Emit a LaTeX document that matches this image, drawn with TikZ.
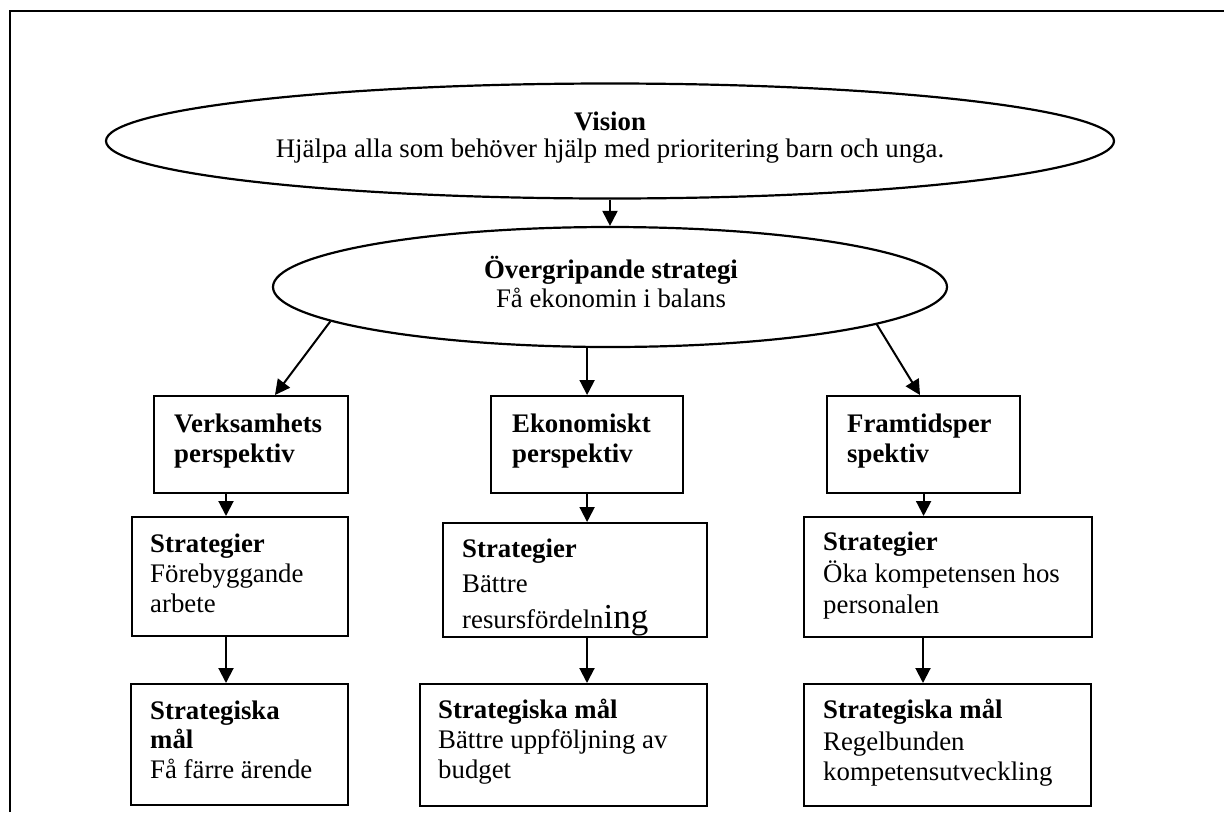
\documentclass[tikz,border=0pt]{standalone}
\usepackage{fontspec}
\setmainfont{Liberation Serif}
\usetikzlibrary{shapes.geometric,arrows.meta,calc}
\begin{document}
\begin{tikzpicture}[x=1pt,y=-1pt,
  shp/.style={draw, line width=2.2pt, inner sep=0pt},
  ell/.style={shp, ellipse},
  bx/.style={shp, rectangle, anchor=north west},
  arr/.style={line width=2pt, -{Triangle[length=15pt,width=15pt]}},
  txt/.style={inner sep=0pt, anchor=base west, font=\fontsize{26.8}{30}\selectfont},
  btxt/.style={txt, font=\fontsize{26.8}{30}\selectfont\bfseries},
  ctxt/.style={txt, anchor=base},
  cbtxt/.style={btxt, anchor=base}]
\useasboundingbox (0,0) rectangle (1224,812);
\draw[line width=2.4pt] (10,812) -- (10,11) -- (1224,11);

% ellipses
\node[ell, minimum width=1008pt, minimum height=115pt] (vision) at (610,141) {};
\node[ell, minimum width=674pt, minimum height=120pt] (over) at (610,287) {};
\node[cbtxt] (visT1) at (610,130) {Vision};
\node[ctxt] (visT2) at (610,157) {Hjälpa alla som behöver hjälp med prioritering barn och unga.};
\node[cbtxt] (ovT1) at (611,278) {Övergripande strategi};
\node[ctxt] (ovT2) at (611,307) {Få ekonomin i balans};

% level 1 boxes
\node[bx, minimum width=194pt, minimum height=97pt] (v1) at (153,395) {};
\node[bx, minimum width=192pt, minimum height=97pt] (e1) at (490,395) {};
\node[bx, minimum width=193pt, minimum height=97pt] (f1) at (826,395) {};
% level 2 boxes
\node[bx, minimum width=216pt, minimum height=119pt] (v2) at (131,516) {};
\node[bx, minimum width=264pt, minimum height=114pt] (e2) at (442,522) {};
\node[bx, minimum width=288pt, minimum height=120pt] (f2) at (803,516) {};
% level 3 boxes
\node[bx, minimum width=217pt, minimum height=121pt] (v3) at (130,683) {};
\node[bx, minimum width=287pt, minimum height=122pt] (e3) at (419,683) {};
\node[bx, minimum width=287pt, minimum height=122pt] (f3) at (803,683) {};

% texts level 1
\node[btxt] (v1a) at (174,432) {Verksamhets};
\node[btxt] (v1b) at (174,462) {perspektiv};
\node[btxt] (e1a) at (512,432) {Ekonomiskt};
\node[btxt] (e1b) at (512,462) {perspektiv};
\node[btxt] (f1a) at (847,432) {Framtidsper};
\node[btxt] (f1b) at (847,462) {spektiv};
% texts level 2
\node[btxt] (v2a) at (150,552) {Strategier};
\node[txt] (v2b) at (150,582) {Förebyggande};
\node[txt] (v2c) at (150,612) {arbete};
\node[btxt] (e2a) at (462,557) {Strategier};
\node[txt] (e2b) at (462,592) {Bättre};
\node[txt] (e2c) at (462,628) {resursfördeln{\fontsize{35}{40}\selectfont ing}};
\node[btxt] (f2a) at (823,550) {Strategier};
\node[txt] (f2b) at (823,582) {Öka kompetensen hos};
\node[txt] (f2c) at (823,613) {personalen};
% texts level 3
\node[btxt] (v3a) at (150,719) {Strategiska};
\node[btxt] (v3b) at (150,748) {mål};
\node[txt] (v3c) at (150,778) {Få färre ärende};
\node[btxt] (e3a) at (438,718) {Strategiska mål};
\node[txt] (e3b) at (438,748) {Bättre uppföljning av};
\node[txt] (e3c) at (438,778) {budget};
\node[btxt] (f3a) at (823,718) {Strategiska mål};
\node[txt] (f3b) at (823,750) {Regelbunden};
\node[txt] (f3c) at (823,780) {kompetensutveckling};

% arrows
\draw[arr] (vision.south) -- (over.north);
\draw[arr] (over.187.7) -- ([xshift=122pt]v1.north west);
\draw[arr] (over.south -| e1.north) -- (e1.north);
\draw[arr] (over.352.3) -- ([xshift=94pt]f1.north west);

\draw[arr] ([xshift=73pt]v1.south west) -- ([xshift=73pt]v1.south west |- v2.north);
\draw[arr] (e1.south) -- (e1.south |- e2.north);
\draw[arr] (f1.south) -- (f1.south |- f2.north);

\draw[arr] ([xshift=95pt]v2.south west) -- ([xshift=95pt]v2.south west |- v3.north);
\draw[arr] ([xshift=145pt]e2.south west) -- ([xshift=145pt]e2.south west |- e3.north);
\draw[arr] ([xshift=120pt]f2.south west) -- ([xshift=120pt]f2.south west |- f3.north);
\end{tikzpicture}
\end{document}
